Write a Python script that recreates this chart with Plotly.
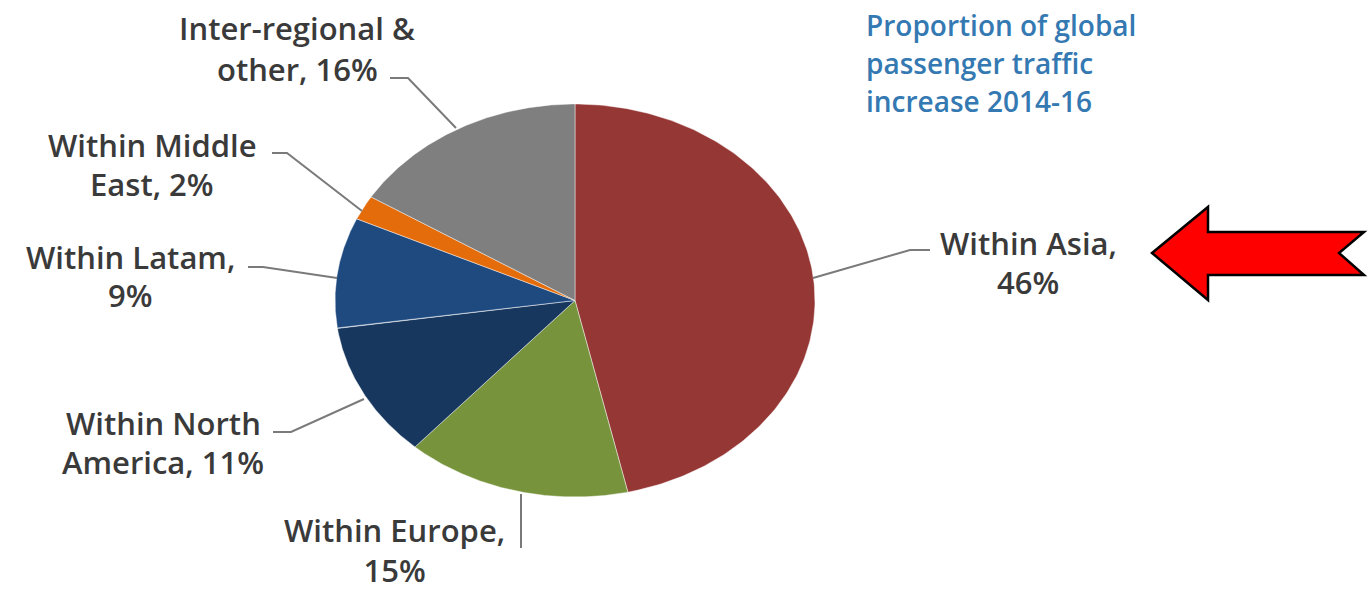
import numpy as np
import plotly.graph_objects as go

# ---- data (clockwise from 12 o'clock) ----
categories = ["Within Asia", "Within Europe", "Within North America",
              "Within Latam", "Within Middle East", "Inter-regional & other"]
values = [46, 15, 11, 9, 2, 16]
colors = ["#953735", "#77933C", "#17375E", "#1F4A80", "#E46C0A", "#7F7F7F"]
label_line1 = ["Within Asia,", "Within Europe,", "Within North",
               "Within Latam,", "Within Middle", "Inter-regional &"]
label_line2_prefix = ["", "", "America, ", "", "East, ", "other, "]
title_lines = ["Proportion of global", "passenger traffic", "increase 2014-16"]

# ---- layout constants (pixel space) ----
W, H = 1370, 592
cx, cy, rx, ry = 575, 300.5, 240, 196.5
label_pos = [  # (x center, y line1, y line2); None -> stacked block anchored at bottom edge
    (1028, 243, 282),
    (394, None, None),
    (163, 423, 462),
    (130, 257, 295),
    (152, 145, 184),
    (297, 28, 69),
]
leaders = [
    [(813, 278), (910, 250), (930, 250)],
    [(521, 494), (521, 548)],
    [(364, 399), (291, 432), (273, 432)],
    [(337, 278), (263, 267), (248, 267)],
    [(362, 211), (287, 153), (272, 153)],
    [(456, 128), (408, 78), (390, 78)],
]

fig = go.Figure()

vals = np.array(values, dtype=float)
fr = vals / vals.sum()
ends = np.cumsum(fr) * 2 * np.pi
starts = ends - fr * 2 * np.pi
for name, v, c, a0, a1 in zip(categories, values, colors, starts, ends):
    t = np.linspace(a0, a1, 200)
    xs = np.concatenate([[cx], cx + rx * np.sin(t), [cx]])
    ys = np.concatenate([[cy], cy - ry * np.cos(t), [cy]])
    fig.add_trace(go.Scatter(
        x=xs, y=ys, mode="lines", fill="toself", fillcolor=c,
        line=dict(color="rgba(255,255,255,0.45)", width=1),
        name=name, text=f"{name}: {v}%", hoverinfo="text", showlegend=False))

txt_font = dict(family="'Open Sans', sans-serif", size=31, color="#3a3a3a", weight=600)
for l1, p2, v, (x, y1, y2) in zip(label_line1, label_line2_prefix, values, label_pos):
    if y1 is None:
        fig.add_annotation(x=x, y=H, text=f"{l1}<br>{p2}{v}%", showarrow=False,
                           xanchor="center", yanchor="bottom", align="center",
                           font=txt_font, borderpad=0)
        continue
    fig.add_annotation(x=x, y=y1, text=l1, showarrow=False, xanchor="center",
                       yanchor="middle", font=txt_font)
    fig.add_annotation(x=x, y=y2, text=f"{p2}{v}%", showarrow=False, xanchor="center",
                       yanchor="middle", font=txt_font)

for pts in leaders:
    d = "M " + " L ".join(f"{px} {py}" for px, py in pts)
    fig.add_shape(type="path", path=d, line=dict(color="#7a7a7a", width=2),
                  xref="x", yref="y")

title_font = dict(family="'Open Sans', sans-serif", size=28, color="#3479B2", weight=600)
for i, tl in enumerate(title_lines):
    fig.add_annotation(x=864, y=25 + i * 38, text=tl, showarrow=False,
                       xanchor="left", yanchor="middle", font=title_font)

# red arrow
fig.add_shape(type="path",
              path="M 1152 253 L 1208 207 L 1208 232 L 1364 232 L 1339 253 "
                   "L 1364 275 L 1208 275 L 1208 300 Z",
              fillcolor="#FF0000", line=dict(color="#000000", width=2.5),
              xref="x", yref="y")

fig.update_layout(
    width=W, height=H, margin=dict(l=0, r=0, t=0, b=0),
    paper_bgcolor="white", plot_bgcolor="white",
    xaxis=dict(range=[0, W], visible=False, fixedrange=True),
    yaxis=dict(range=[H, 0], visible=False, fixedrange=True),
    showlegend=False,
)
fig.write_html("out.html")
